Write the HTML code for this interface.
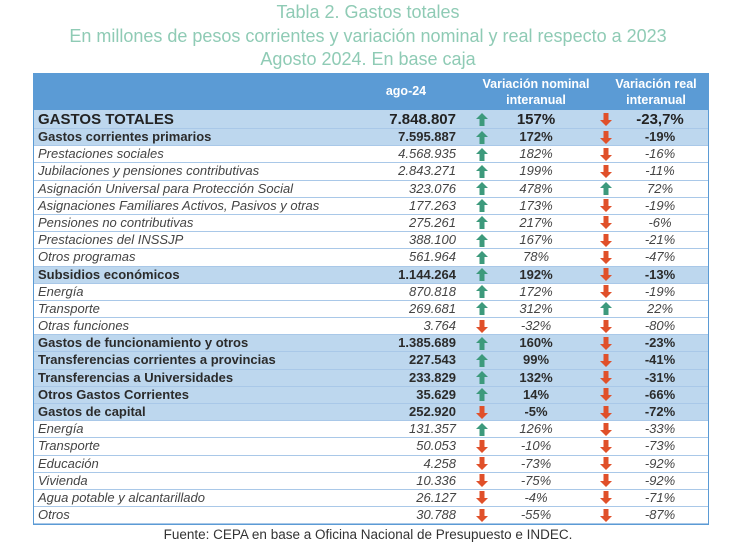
<!DOCTYPE html>
<html><head><meta charset="utf-8"><style>
body{margin:0;width:730px;height:558px;background:#fff;font-family:"Liberation Sans",sans-serif;position:relative;overflow:hidden}
.t{position:absolute;left:0;width:736px;text-align:center;color:#8fcbb5;font-size:18px;line-height:22px}
.tbl{position:absolute;left:33px;top:73px;width:674px;border:1px solid #5b9bd5;border-top:none}
.hd{height:37px;background:#5b9bd5;position:relative;color:#fff;font-weight:bold;font-size:12.5px}
.hd div{position:absolute;text-align:center;line-height:16px}
.r{position:relative;height:17.2px;border-bottom:1px solid #a9c8e8;box-sizing:border-box;font-size:13px;color:#333;line-height:16px}
.b{background:#bdd7ee;font-weight:bold;color:#2b2b2b}
.i{background:#fff;font-style:italic;color:#444}
.tot{height:19px;font-size:15px;line-height:19px;background:#bdd7ee;font-weight:bold;color:#222}
.r span{position:absolute;white-space:nowrap}
.l{left:4px}.v{right:252px;text-align:right}.n{left:450px;width:104px;text-align:center}.rv{left:590px;width:72px;text-align:center}
.a1{left:442px}.a2{left:566px}
.up,.dn{display:block;width:12px;height:13px}
</style></head><body>
<div class="t" style="top:1px">Tabla 2. Gastos totales</div>
<div class="t" style="top:25px">En millones de pesos corrientes y variación nominal y real respecto a 2023</div>
<div class="t" style="top:48px">Agosto 2024. En base caja</div>
<div class="tbl">
<div class="hd"><div style="left:330px;width:84px;top:10px">ago-24</div><div style="left:440px;width:124px;top:3px">Variación nominal<br>interanual</div><div style="left:570px;width:104px;top:3px">Variación real<br>interanual</div></div>
<div id="rows"></div>
</div>
<div style="position:absolute;top:527px;left:0;width:736px;text-align:center;font-size:13.5px;color:#333">Fuente: CEPA en base a Oficina Nacional de Presupuesto e INDEC.</div>
<script>
var U='<svg class="up" viewBox="0 0 12 13"><path d="M6 0L12 6H8.5V13H3.5V6H0Z" fill="#3d9a7c"/></svg>';
var D='<svg class="dn" viewBox="0 0 12 13"><path d="M6 13L12 7H8.5V0H3.5V7H0Z" fill="#e0502a"/></svg>';
var d=[
["t","GASTOS TOTALES","7.848.807",1,"157%",0,"-23,7%"],
["b","Gastos corrientes primarios","7.595.887",1,"172%",0,"-19%"],
["i","Prestaciones sociales","4.568.935",1,"182%",0,"-16%"],
["i","Jubilaciones y pensiones contributivas","2.843.271",1,"199%",0,"-11%"],
["i","Asignación Universal para Protección Social","323.076",1,"478%",1,"72%"],
["i","Asignaciones Familiares Activos, Pasivos y otras","177.263",1,"173%",0,"-19%"],
["i","Pensiones no contributivas","275.261",1,"217%",0,"-6%"],
["i","Prestaciones del INSSJP","388.100",1,"167%",0,"-21%"],
["i","Otros programas","561.964",1,"78%",0,"-47%"],
["b","Subsidios económicos","1.144.264",1,"192%",0,"-13%"],
["i","Energía","870.818",1,"172%",0,"-19%"],
["i","Transporte","269.681",1,"312%",1,"22%"],
["i","Otras funciones","3.764",0,"-32%",0,"-80%"],
["b","Gastos de funcionamiento y otros","1.385.689",1,"160%",0,"-23%"],
["b","Transferencias corrientes a provincias","227.543",1,"99%",0,"-41%"],
["b","Transferencias a Universidades","233.829",1,"132%",0,"-31%"],
["b","Otros Gastos Corrientes","35.629",1,"14%",0,"-66%"],
["b","Gastos de capital","252.920",0,"-5%",0,"-72%"],
["i","Energía","131.357",1,"126%",0,"-33%"],
["i","Transporte","50.053",0,"-10%",0,"-73%"],
["i","Educación","4.258",0,"-73%",0,"-92%"],
["i","Vivienda","10.336",0,"-75%",0,"-92%"],
["i","Agua potable y alcantarillado","26.127",0,"-4%",0,"-71%"],
["i","Otros","30.788",0,"-55%",0,"-87%"]];
var h='';d.forEach(function(x){var c=x[0]=='t'?'r tot':'r '+x[0];var tp=x[0]=='t'?3:1.5;
h+='<div class="'+c+'"><span class="l">'+x[1]+'</span><span class="v">'+x[2]+'</span><span class="a1" style="top:'+tp+'px">'+(x[3]?U:D)+'</span><span class="n">'+x[4]+'</span><span class="a2" style="top:'+tp+'px">'+(x[5]?U:D)+'</span><span class="rv">'+x[6]+'</span></div>';});
document.getElementById('rows').innerHTML=h;
</script>
</body></html>
